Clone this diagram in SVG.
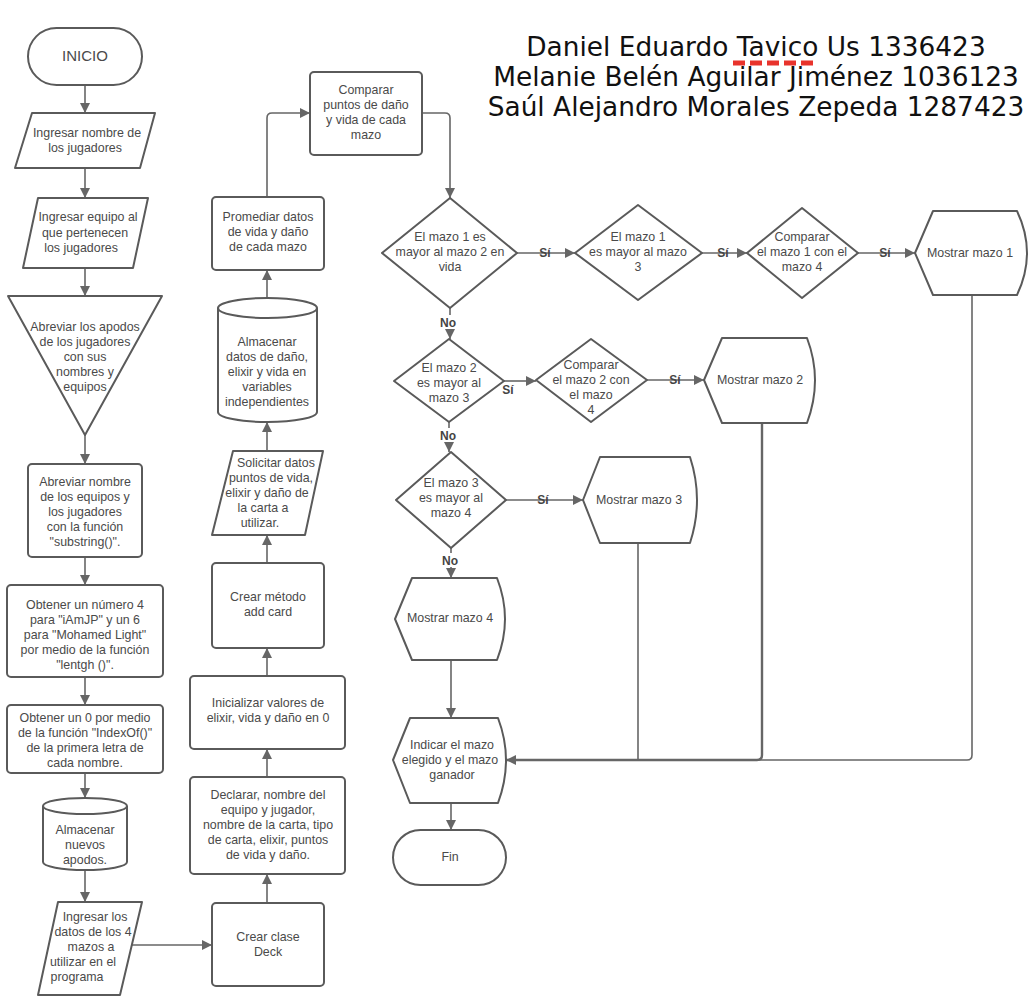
<svg xmlns="http://www.w3.org/2000/svg" width="1036" height="1005" viewBox="0 0 1036 1005">
<style>
.s{fill:#fff;stroke:#5a5a5a;stroke-width:2;stroke-linejoin:round}
.t{font-family:"Liberation Sans",Arial,sans-serif;font-size:12.4px;fill:#4a4a4a;text-anchor:middle}
.c{fill:none;stroke:#666;stroke-width:1.6;marker-end:url(#ah)}
.l{fill:none;stroke:#666;stroke-width:1.6}
.lb{font-family:"Liberation Sans",Arial,sans-serif;font-size:12px;font-weight:bold;fill:#444;text-anchor:middle}
.title{font-family:"DejaVu Sans","Liberation Sans",sans-serif;font-size:26.4px;fill:#111;text-anchor:middle}
</style>
<defs>
<marker id="ah" viewBox="0 0 10 10" refX="10" refY="5" markerWidth="10" markerHeight="10" markerUnits="userSpaceOnUse" orient="auto">
<path d="M0,0 L10,5 L0,10 z" fill="#666"/>
</marker>
</defs>
<rect width="1036" height="1005" fill="#fff"/>

<g id="title">
<text class="title" x="756" y="56">Daniel Eduardo Tavico Us 1336423</text>
<text class="title" x="756" y="86">Melanie Belén Aguilar Jiménez 1036123</text>
<text class="title" x="756" y="116">Saúl Alejandro Morales Zepeda 1287423</text>
<line x1="733" y1="63" x2="813" y2="63" stroke="#e8332c" stroke-width="5" stroke-dasharray="12 5"/>
</g>

<g id="connectors">
<path class="c" d="M85,85 V113"/>
<path class="c" d="M85,168 V198"/>
<path class="c" d="M85,268 V296"/>
<path class="c" d="M85,435 V464"/>
<path class="c" d="M85,557 V585"/>
<path class="c" d="M85,677 V705"/>
<path class="c" d="M85,773 V798"/>
<path class="c" d="M85,870 V902"/>
<path class="c" d="M131,945 H212"/>
<path class="c" d="M267,903 V874"/>
<path class="c" d="M267,777 V749"/>
<path class="c" d="M267,676 V648"/>
<path class="c" d="M267,563 V535"/>
<path class="c" d="M267,451 V422"/>
<path class="c" d="M267,298 V270"/>
<path class="c" d="M267,197 V118 Q267,113 272,113 H310"/>
<path class="c" d="M422,113 H445 Q450,113 450,118 V198"/>
<path class="c" d="M517,253 H575"/>
<path class="c" d="M702,253 H747"/>
<path class="c" d="M858,253 H915"/>
<path class="c" d="M450,308 V339"/>
<path class="c" d="M504,381 H536"/>
<path class="c" d="M647,380 H704"/>
<path class="c" d="M449,422 V452"/>
<path class="c" d="M506,500 H583"/>
<path class="c" d="M451,548 V578"/>
<path class="c" d="M451,660 V718"/>
<path class="c" d="M451,803 V830"/>
<path class="l" d="M972,295 V755 Q972,760 967,760 H600"/>
<path class="l" d="M638,543 V760"/>
<path class="c" d="M762,423 V755 Q762,760 757,760 H506" style="stroke-width:2.4"/>
<rect x="436" y="315" width="25" height="14" fill="#fff"/>
<text class="lb" x="448" y="327">No</text>
<rect x="436" y="428" width="25" height="14" fill="#fff"/>
<text class="lb" x="448" y="440">No</text>
<rect x="438" y="553" width="25" height="14" fill="#fff"/>
<text class="lb" x="450" y="565">No</text>
<text class="lb" x="545" y="257">Sí</text>
<text class="lb" x="723" y="257">Sí</text>
<text class="lb" x="885" y="257">Sí</text>
<text class="lb" x="508" y="394">Sí</text>
<text class="lb" x="675" y="384">Sí</text>
<text class="lb" x="543" y="504">Sí</text>
</g>

<g id="inicio">
<rect class="s" x="28" y="28" width="114" height="57" rx="28.5"/>
<text class="t" x="85" y="61" style="font-size:15px">INICIO</text>
</g>
<g id="ingresar-nombre">
<path class="s" d="M32,113 H155 L140,168 H15 Z"/>
<text class="t" x="87" y="137">Ingresar nombre de</text>
<text class="t" x="85" y="152">los jugadores</text>
</g>
<g id="ingresar-equipo">
<path class="s" d="M38,198 H148 L133,268 H23 Z"/>
<text class="t" x="88" y="221">Ingresar equipo al</text>
<text class="t" x="85" y="237">que pertenecen</text>
<text class="t" x="81" y="252">los jugadores</text>
</g>
<g id="abreviar-apodos">
<path class="s" d="M8,296 H162 L85,435 Z"/>
<text class="t" x="85" y="331">Abreviar los apodos</text>
<text class="t" x="85" y="346">de los jugadores</text>
<text class="t" x="85" y="361">con sus</text>
<text class="t" x="85" y="376">nombres y</text>
<text class="t" x="85" y="391">equipos</text>
</g>
<g id="abreviar-nombre">
<rect class="s" x="28" y="464" width="114" height="93" rx="4"/>
<text class="t" x="85" y="486">Abreviar nombre</text>
<text class="t" x="85" y="501">de los equipos y</text>
<text class="t" x="85" y="516">los jugadores</text>
<text class="t" x="85" y="531">con la función</text>
<text class="t" x="85" y="546">"substring()".</text>
</g>
<g id="obtener-4">
<rect class="s" x="7" y="585" width="156" height="92" rx="4"/>
<text class="t" x="85" y="609">Obtener un número 4</text>
<text class="t" x="85" y="624">para "iAmJP" y un 6</text>
<text class="t" x="85" y="639">para "Mohamed Light"</text>
<text class="t" x="85" y="654">por medio de la función</text>
<text class="t" x="85" y="669">"lentgh ()".</text>
</g>
<g id="obtener-0">
<rect class="s" x="7" y="705" width="156" height="68" rx="4"/>
<text class="t" x="85" y="722">Obtener un 0 por medio</text>
<text class="t" x="85" y="737">de la función "IndexOf()"</text>
<text class="t" x="85" y="752">de la primera letra de</text>
<text class="t" x="85" y="767">cada nombre.</text>
</g>
<g id="almacenar-apodos">
<path class="s" d="M43,806 V862 A42,8 0 0 0 127,862 V806 A42,8 0 0 0 43,806 Z"/>
<path class="s" d="M43,806 A42,8 0 0 0 127,806" fill="none"/>
<text class="t" x="85" y="834">Almacenar</text>
<text class="t" x="85" y="849">nuevos</text>
<text class="t" x="85" y="864">apodos.</text>
</g>
<g id="ingresar-datos">
<path class="s" d="M58,902 H142 L120,995 H38 Z"/>
<text class="t" x="95" y="921">Ingresar los</text>
<text class="t" x="93" y="936">datos de los 4</text>
<text class="t" x="91" y="951">mazos a</text>
<text class="t" x="83" y="966">utilizar en el</text>
<text class="t" x="77" y="981">programa</text>
</g>

<g id="crear-clase">
<rect class="s" x="212" y="903" width="112" height="83" rx="4"/>
<text class="t" x="268" y="941">Crear clase</text>
<text class="t" x="268" y="956">Deck</text>
</g>
<g id="declarar">
<rect class="s" x="190" y="777" width="155" height="97" rx="4"/>
<text class="t" x="268" y="799">Declarar, nombre del</text>
<text class="t" x="268" y="814">equipo y jugador,</text>
<text class="t" x="268" y="829">nombre de la carta, tipo</text>
<text class="t" x="268" y="844">de carta, elixir, puntos</text>
<text class="t" x="268" y="859">de vida y daño.</text>
</g>
<g id="inicializar">
<rect class="s" x="190" y="676" width="155" height="73" rx="4"/>
<text class="t" x="268" y="707">Inicializar valores de</text>
<text class="t" x="268" y="722">elixir, vida y daño en 0</text>
</g>
<g id="crear-metodo">
<rect class="s" x="212" y="563" width="112" height="85" rx="4"/>
<text class="t" x="268" y="601">Crear método</text>
<text class="t" x="268" y="616">add card</text>
</g>
<g id="solicitar">
<path class="s" d="M233,451 H323 L305,535 H212 Z"/>
<text class="t" x="276" y="467">Solicitar datos</text>
<text class="t" x="271" y="482">puntos de vida,</text>
<text class="t" x="267" y="497">elixir y daño de</text>
<text class="t" x="263" y="512">la carta a</text>
<text class="t" x="260" y="527">utilizar.</text>
</g>
<g id="almacenar-datos">
<path class="s" d="M218,308 V412 A49.5,10 0 0 0 317,412 V308 A49.5,10 0 0 0 218,308 Z"/>
<path class="s" d="M218,308 A49.5,10 0 0 0 317,308" fill="none"/>
<text class="t" x="267" y="346">Almacenar</text>
<text class="t" x="267" y="361">datos de daño,</text>
<text class="t" x="267" y="376">elixir y vida en</text>
<text class="t" x="267" y="391">variables</text>
<text class="t" x="267" y="406">independientes</text>
</g>
<g id="promediar">
<rect class="s" x="212" y="197" width="112" height="73" rx="4"/>
<text class="t" x="268" y="221">Promediar datos</text>
<text class="t" x="268" y="236">de vida y daño</text>
<text class="t" x="268" y="251">de cada mazo</text>
</g>
<g id="comparar">
<rect class="s" x="310" y="72" width="112" height="83" rx="4"/>
<text class="t" x="366" y="94">Comparar</text>
<text class="t" x="366" y="109">puntos de daño</text>
<text class="t" x="366" y="124">y vida de cada</text>
<text class="t" x="366" y="139">mazo</text>
</g>

<g id="d1">
<path class="s" d="M450,198 L517,253 L450,308 L382,253 Z"/>
<text class="t" x="450" y="241">El mazo 1 es</text>
<text class="t" x="450" y="256">mayor al mazo 2 en</text>
<text class="t" x="450" y="271">vida</text>
</g>
<g id="d2">
<path class="s" d="M638,205 L702,253 L638,300 L575,253 Z"/>
<text class="t" x="638" y="241">El mazo 1</text>
<text class="t" x="638" y="256">es mayor al mazo</text>
<text class="t" x="638" y="271">3</text>
</g>
<g id="d3">
<path class="s" d="M802,208 L858,253 L802,298 L747,253 Z"/>
<text class="t" x="802" y="241">Comparar</text>
<text class="t" x="802" y="256">el mazo 1 con el</text>
<text class="t" x="802" y="271">mazo 4</text>
</g>
<g id="mostrar1">
<path class="s" d="M915,253 L933,211 H1017 Q1037,253 1017,295 H933 Z"/>
<text class="t" x="970" y="257">Mostrar mazo 1</text>
</g>
<g id="d4">
<path class="s" d="M449,339 L504,381 L449,422 L394,381 Z"/>
<text class="t" x="449" y="372">El mazo 2</text>
<text class="t" x="449" y="387">es mayor al</text>
<text class="t" x="449" y="402">mazo 3</text>
</g>
<g id="d5">
<path class="s" d="M591,339 L647,380 L591,422 L536,380 Z"/>
<text class="t" x="591" y="369">Comparar</text>
<text class="t" x="591" y="384">el mazo 2 con</text>
<text class="t" x="591" y="399">el mazo</text>
<text class="t" x="591" y="414">4</text>
</g>
<g id="mostrar2">
<path class="s" d="M704,380 L722,338 H807 Q823,380 807,423 H722 Z"/>
<text class="t" x="760" y="384">Mostrar mazo 2</text>
</g>
<g id="d6">
<path class="s" d="M451,452 L506,500 L451,548 L396,500 Z"/>
<text class="t" x="451" y="487">El mazo 3</text>
<text class="t" x="451" y="502">es mayor al</text>
<text class="t" x="451" y="517">mazo 4</text>
</g>
<g id="mostrar3">
<path class="s" d="M583,500 L600,457 H690 Q704,500 690,543 H600 Z"/>
<text class="t" x="639" y="504">Mostrar mazo 3</text>
</g>
<g id="mostrar4">
<path class="s" d="M395,619 L412,578 H497 Q513,619 497,660 H412 Z"/>
<text class="t" x="450" y="622">Mostrar mazo 4</text>
</g>
<g id="indicar">
<path class="s" d="M393,760 L410,718 H498 Q514,760 498,803 H410 Z"/>
<text class="t" x="452" y="749">Indicar el mazo</text>
<text class="t" x="450" y="764">elegido y el mazo</text>
<text class="t" x="452" y="779">ganador</text>
</g>
<g id="fin">
<rect class="s" x="393" y="830" width="113" height="55" rx="27.5"/>
<text class="t" x="450" y="861">Fin</text>
</g>
</svg>
